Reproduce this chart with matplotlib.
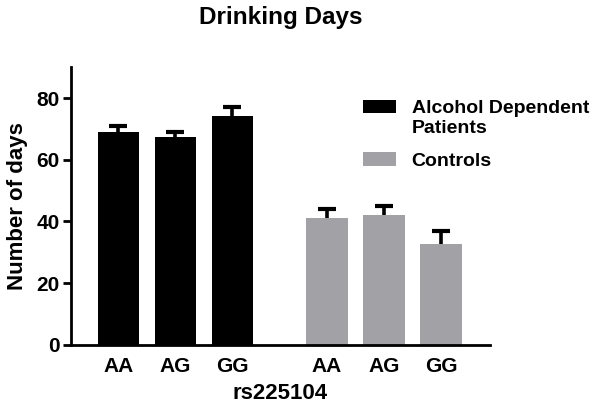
import numpy as np
import matplotlib.pyplot as plt
from matplotlib.patches import Rectangle
from matplotlib.legend_handler import HandlerPatch

plt.rcParams['font.family'] = ['Liberation Sans', 'DejaVu Sans']
plt.rcParams['font.weight'] = 'bold'

genotypes = ['AA', 'AG', 'GG']
patients = [69.0, 67.5, 74.3]
patients_err = [2.0, 1.6, 2.8]
controls = [41.0, 42.2, 32.8]
controls_err = [3.1, 2.8, 4.0]

black = '#000000'
grey = '#a1a1a6'


class FirstLinePatch(HandlerPatch):
    # put the legend swatch next to the first line of a two-line label
    def create_artists(self, legend, orig_handle, xdescent, ydescent,
                       width, height, fontsize, trans):
        p = Rectangle((-xdescent, -ydescent + 0.6 * fontsize), width, height,
                      facecolor=orig_handle.get_facecolor(), edgecolor='none',
                      transform=trans)
        return [p]


fig = plt.figure(figsize=(6.02, 4.12), dpi=100)
ax = fig.add_axes([0.118, 0.163, 0.696, 0.674])

x1 = np.arange(3)
x2 = np.arange(3) + 3.66
w = 0.72
ekw = dict(elinewidth=2.6, capsize=6.5, capthick=3, ecolor='black')

b1 = ax.bar(x1, patients, w, color=black,
            yerr=[np.zeros(3), patients_err], error_kw=ekw, zorder=2)
b2 = ax.bar(x2, controls, w, color=grey,
            yerr=[np.zeros(3), controls_err], error_kw=ekw, zorder=2)
# only the upper caps are shown
for b in (b1, b2):
    b.errorbar.lines[1][0].set_visible(False)

ax.set_xticks(np.concatenate([x1, x2]))
ax.set_xticklabels(genotypes + genotypes, fontsize=15, fontweight='bold')
ax.tick_params(axis='x', length=0, pad=9)
ax.tick_params(axis='y', length=6, width=2, labelsize=15, pad=2)
for t in ax.get_yticklabels():
    t.set_fontweight('bold')

ax.set_xlim(-0.83, x2[-1] + 0.86)
ax.set_ylim(0, 90)
ax.set_yticks([0, 20, 40, 60, 80])

for s in ['top', 'right']:
    ax.spines[s].set_visible(False)
for s in ['left', 'bottom']:
    ax.spines[s].set_linewidth(2)

ax.set_ylabel('Number of days', fontsize=16, fontweight='bold', labelpad=6)
ax.set_xlabel('rs225104', fontsize=16, fontweight='bold', labelpad=5)
ax.set_title('Drinking Days', fontsize=17.5, fontweight='bold', pad=31)

h1 = Rectangle((0, 0), 1, 1, facecolor=black)
h2 = Rectangle((0, 0), 1, 1, facecolor=grey)
ax.legend([h1, h2], ['Alcohol Dependent\nPatients', 'Controls'],
          loc='upper left', bbox_to_anchor=(0.603, 0.757),
          bbox_transform=fig.transFigure, frameon=False, borderpad=0,
          borderaxespad=0, handlelength=1.7, handleheight=0.72,
          handletextpad=0.8, labelspacing=0.8,
          handler_map={h1: FirstLinePatch()},
          prop={'weight': 'bold', 'size': 14})

fig.savefig('out.png', dpi=100)
